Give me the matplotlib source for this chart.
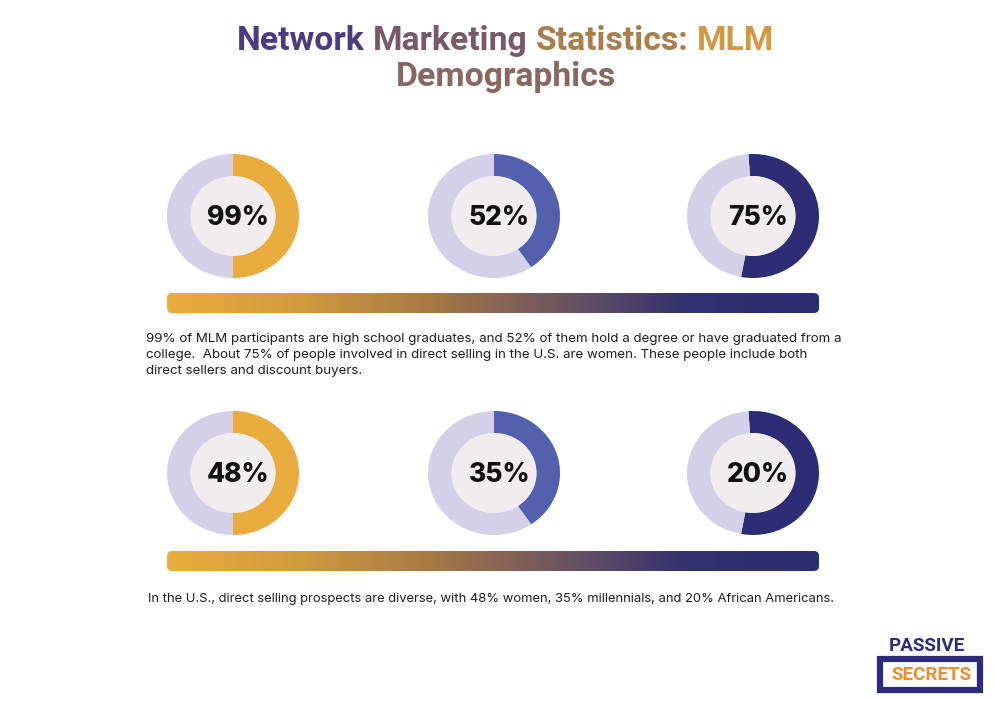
import matplotlib
matplotlib.use("Agg")
import numpy as np
import matplotlib.pyplot as plt
from matplotlib.patches import Circle, FancyBboxPatch, Rectangle
from matplotlib.colors import LinearSegmentedColormap

# labels shown in the donut centres, and the arc share each donut actually draws
row1_labels = ["99%", "52%", "75%"]
row2_labels = ["48%", "35%", "20%"]
arc_share = [0.50, 0.405, 0.54]      # drawn share of the ring (same for both rows)
arc_start = [90, 90, 94]             # start angle of the coloured arc
arc_colors = ["#EAAB3E", "#5360AE", "#2C2D74"]
ring_color = "#D4D0E7"
hole_color = "#F1EDEF"

title_line1 = ["Network", "Marketing", "Statistics:", "MLM"]
title_line2 = ["Demographics"]
text1 = ("99% of MLM participants are high school graduates, and 52% of them hold a degree or have graduated from a\n"
         "college.  About 75% of people involved in direct selling in the U.S. are women. These people include both\n"
         "direct sellers and discount buyers.")
text2 = "In the U.S., direct selling prospects are diverse, with 48% women, 35% millennials, and 20% African Americans."

grad = LinearSegmentedColormap.from_list("mlm", [
    (0.0, "#EAAC3E"), (0.2, "#D09A3C"), (0.4, "#A87A44"), (0.55, "#7E5E5A"),
    (0.68, "#574868"), (0.8, "#33306E"), (1.0, "#2A2C72")])
title_grad = LinearSegmentedColormap.from_list("title", ["#3A3088", "#6E5270", "#A27C4E", "#E0A03C"])

W, H = 995, 701
fig = plt.figure(figsize=(W / 100, H / 100), dpi=100)
fig.patch.set_facecolor("white")
ax = fig.add_axes([0, 0, 1, 1])
ax.set_xlim(0, W)
ax.set_ylim(H, 0)
ax.axis("off")

# ---- title, coloured word by word along a gradient
fig.canvas.draw()
renderer = fig.canvas.get_renderer()
tfont = dict(family="Roboto", weight="bold", size=24.3)

def text_width(s):
    t = ax.text(0, 0, s, **tfont)
    w = t.get_window_extent(renderer).width
    t.remove()
    return w

def gradient_line(words, y, x0=240, x1=775):
    full = " ".join(words)
    total = text_width(full)
    left = W / 2 + 8 - total / 2
    for i, wd in enumerate(words):
        pre = " ".join(words[:i]) + (" " if i else "")
        xs = left + (text_width(pre) if pre else 0)
        xm = xs + text_width(wd) / 2
        c = title_grad(np.clip((xm - x0) / (x1 - x0), 0, 1))
        ax.text(xs, y, wd, color=c, ha="left", va="center", **tfont)

gradient_line(title_line1, 41)
gradient_line(title_line2, 77)

# ---- donuts
centers_x = [233, 494, 753]
rows = [(216, row1_labels), (473, row2_labels)]
rw, rh = 132, 124
for cy, labels in rows:
    for i, cx in enumerate(centers_x):
        dax = fig.add_axes([(cx - rw / 2) / W, 1 - (cy + rh / 2) / H, rw / W, rh / H])
        dax.pie([arc_share[i], 1 - arc_share[i]], colors=[arc_colors[i], ring_color],
                startangle=arc_start[i], counterclock=False,
                wedgeprops=dict(width=0.36, linewidth=0))
        dax.add_patch(Circle((0, 0), 0.645, color=hole_color, lw=0))
        dax.set_aspect("auto")
        dax.set_xlim(-1, 1)
        dax.set_ylim(-1, 1)
        dax.axis("off")
        dax.text(0.08, -0.03, labels[i], ha="center", va="center",
                 family="Inter", weight="heavy", size=19, color="#111111")

# ---- gradient bars
for y0 in [293, 551]:
    x0, x1, h = 167, 819, 20
    clip = FancyBboxPatch((x0, y0), x1 - x0, h, boxstyle="round,pad=0,rounding_size=5",
                          transform=ax.transData, facecolor="none", edgecolor="none")
    ax.add_patch(clip)
    im = ax.imshow(np.linspace(0, 1, 300)[None, :], cmap=grad, aspect="auto",
                   extent=(x0, x1, y0 + h, y0), interpolation="bilinear")
    im.set_clip_path(clip)

ax.set_xlim(0, W)
ax.set_ylim(H, 0)

# ---- body text
ax.text(146, 333, text1, ha="left", va="top", family="Inter", size=9.6,
        color="#1E1E1E", linespacing=1.42)
ax.text(148, 599, text2, ha="left", va="center", family="Inter", size=9.35, color="#1E1E1E")

# ---- logo
ax.text(927, 646, "PASSIVE", ha="center", va="center", family="Roboto", weight="bold",
        size=13.5, color="#2D2C7A")
ax.add_patch(Rectangle((880, 659), 100, 31, facecolor="white", edgecolor="#2D2C7A", lw=4.5))
ax.text(931, 675, "SECRETS", ha="center", va="center", family="Roboto", weight="bold",
        size=13.5, color="#EA8E36")

fig.savefig("out.png", dpi=100, facecolor="white")
